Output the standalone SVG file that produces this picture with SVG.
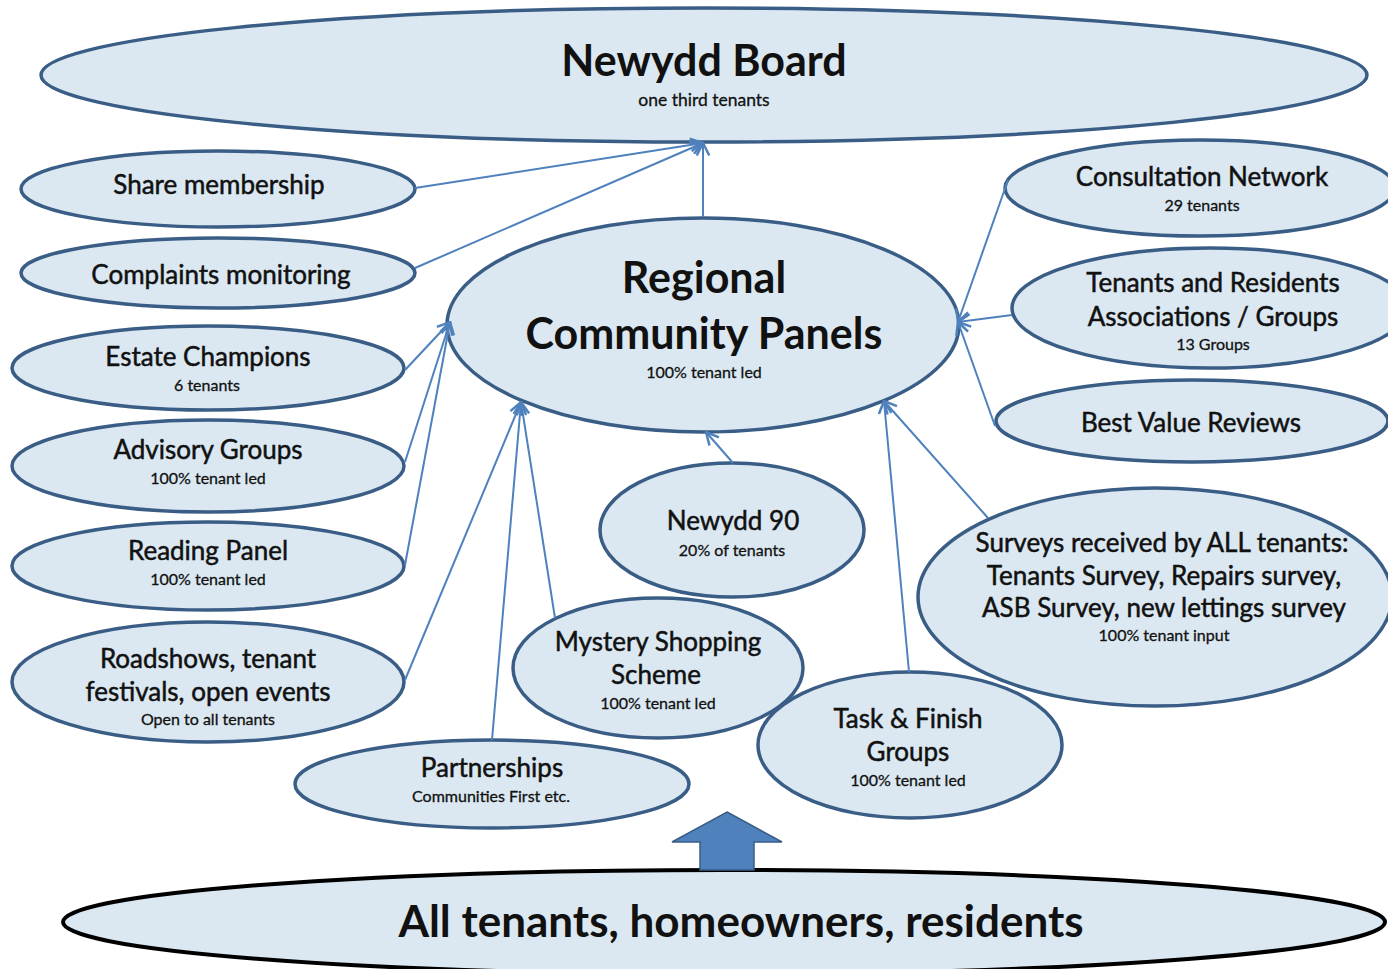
<svg xmlns="http://www.w3.org/2000/svg" width="1388" height="969" viewBox="0 0 1388 969">
  <defs>
    <style>
      .node { fill: #dbe8f2; stroke: #3a5d86; stroke-width: 3.5; }
      .base { fill: #dbe8f2; stroke: #000000; stroke-width: 4; }
      .link { fill: none; stroke: #4f81bd; stroke-width: 2; marker-end: url(#chev); }
      text { font-family: Lato, "Open Sans", "Liberation Sans", sans-serif; fill: #111111; text-anchor: middle; }
      .big { font-size: 43px; font-weight: bold; }
      .lbl { font-size: 26px; stroke: #111111; stroke-width: 0.5px; }
      .sub { font-size: 16px; stroke: #111111; stroke-width: 0.3px; }
    </style>
    <marker id="chev" viewBox="0 0 12 12" refX="11" refY="6" markerWidth="15" markerHeight="15" markerUnits="userSpaceOnUse" orient="auto">
      <path d="M1,1 L11,6 L1,11" fill="none" stroke="#4f81bd" stroke-width="2"/>
    </marker>
  </defs>
  <rect width="1388" height="969" fill="#ffffff"/>

  <g id="newydd-board">
    <ellipse class="node" cx="704" cy="75" rx="663" ry="67" stroke-width="4"/>
    <text class="big" x="704" y="76">Newydd Board</text>
    <text class="sub" x="704" y="106" style="font-size:17.5px">one third tenants</text>
  </g>

  <g id="share-membership">
    <ellipse class="node" cx="218" cy="189" rx="197" ry="38"/>
    <text class="lbl" x="219" y="194">Share membership</text>
  </g>

  <g id="complaints-monitoring">
    <ellipse class="node" cx="218" cy="273" rx="197" ry="35"/>
    <text class="lbl" x="221" y="284">Complaints monitoring</text>
  </g>

  <g id="estate-champions">
    <ellipse class="node" cx="208" cy="368" rx="196" ry="42"/>
    <text class="lbl" x="208" y="366">Estate Champions</text>
    <text class="sub" x="207" y="391">6 tenants</text>
  </g>

  <g id="advisory-groups">
    <ellipse class="node" cx="208" cy="466" rx="196" ry="46"/>
    <text class="lbl" x="208" y="459">Advisory Groups</text>
    <text class="sub" x="208" y="484">100% tenant led</text>
  </g>

  <g id="reading-panel">
    <ellipse class="node" cx="208" cy="566" rx="196" ry="44"/>
    <text class="lbl" x="208" y="560">Reading Panel</text>
    <text class="sub" x="208" y="585">100% tenant led</text>
  </g>

  <g id="roadshows">
    <ellipse class="node" cx="208" cy="682" rx="196" ry="60"/>
    <text class="lbl" x="208" y="668">Roadshows, tenant</text>
    <text class="lbl" x="208" y="701">festivals, open events</text>
    <text class="sub" x="208" y="725">Open to all tenants</text>
  </g>

  <g id="partnerships">
    <ellipse class="node" cx="492" cy="784" rx="197" ry="44"/>
    <text class="lbl" x="492" y="777">Partnerships</text>
    <text class="sub" x="491" y="802">Communities First etc.</text>
  </g>

  <g id="newydd-90">
    <ellipse class="node" cx="732" cy="530" rx="132" ry="67"/>
    <text class="lbl" x="733" y="530">Newydd 90</text>
    <text class="sub" x="732" y="556">20% of tenants</text>
  </g>

  <g id="mystery-shopping">
    <ellipse class="node" cx="658" cy="668" rx="145" ry="70"/>
    <text class="lbl" x="658" y="651">Mystery Shopping</text>
    <text class="lbl" x="656" y="684">Scheme</text>
    <text class="sub" x="658" y="709">100% tenant led</text>
  </g>

  <g id="task-finish">
    <ellipse class="node" cx="910" cy="745" rx="152" ry="73"/>
    <text class="lbl" x="908" y="728">Task &amp; Finish</text>
    <text class="lbl" x="908" y="761">Groups</text>
    <text class="sub" x="908" y="786">100% tenant led</text>
  </g>

  <g id="surveys">
    <ellipse class="node" cx="1155" cy="597" rx="237" ry="109"/>
    <text class="lbl" x="1162" y="552">Surveys received by ALL tenants:</text>
    <text class="lbl" x="1164" y="585">Tenants Survey, Repairs survey,</text>
    <text class="lbl" x="1164" y="617">ASB Survey, new lettings survey</text>
    <text class="sub" x="1164" y="641">100% tenant input</text>
  </g>

  <g id="consultation-network">
    <ellipse class="node" cx="1200" cy="188" rx="195" ry="48"/>
    <text class="lbl" x="1202" y="186">Consultation Network</text>
    <text class="sub" x="1202" y="211">29 tenants</text>
  </g>

  <g id="tenants-residents">
    <ellipse class="node" cx="1210" cy="308" rx="198" ry="60"/>
    <text class="lbl" x="1213" y="292">Tenants and Residents</text>
    <text class="lbl" x="1213" y="326">Associations / Groups</text>
    <text class="sub" x="1213" y="350">13 Groups</text>
  </g>

  <g id="best-value">
    <ellipse class="node" cx="1192" cy="421" rx="196" ry="41"/>
    <text class="lbl" x="1191" y="432">Best Value Reviews</text>
  </g>

  <g id="regional-panels">
    <ellipse class="node" cx="703" cy="325" rx="256" ry="107" stroke-width="4"/>
    <text class="big" x="704" y="293">Regional</text>
    <text class="big" x="704" y="349">Community Panels</text>
    <text class="sub" x="704" y="378">100% tenant led</text>
  </g>

  <g id="all-tenants">
    <ellipse class="base" cx="724" cy="922" rx="661" ry="52"/>
    <text class="big" x="741" y="937" style="font-size:44px">All tenants, homeowners, residents</text>
  </g>

  <!-- upward block arrow from the residents base -->
  <g id="base-arrow">
    <path d="M727,812 L782,842 L754,842 L754,870 L700,870 L700,842 L672,842 Z" fill="#4f81bd" stroke="#3a5d86" stroke-width="1.5"/>
  </g>

  <g id="connectors">
    <line class="link" x1="415" y1="188" x2="703" y2="143"/>
    <line class="link" x1="415" y1="268" x2="703" y2="143"/>
    <line class="link" x1="703" y1="217" x2="703" y2="143"/>
    <line class="link" x1="405" y1="370" x2="450" y2="322"/>
    <line class="link" x1="405" y1="462" x2="450" y2="322"/>
    <line class="link" x1="405" y1="565" x2="450" y2="322"/>
    <line class="link" x1="405" y1="680" x2="521" y2="402"/>
    <line class="link" x1="492" y1="740" x2="521" y2="402"/>
    <line class="link" x1="555" y1="618" x2="521" y2="402"/>
    <line class="link" x1="733" y1="463" x2="706" y2="432"/>
    <line class="link" x1="909" y1="672" x2="884" y2="401"/>
    <line class="link" x1="988" y1="518" x2="884" y2="401"/>
    <line class="link" x1="1008" y1="180" x2="958" y2="322"/>
    <line class="link" x1="1012" y1="315" x2="958" y2="322"/>
    <line class="link" x1="995" y1="426" x2="958" y2="322"/>
  </g>
</svg>
